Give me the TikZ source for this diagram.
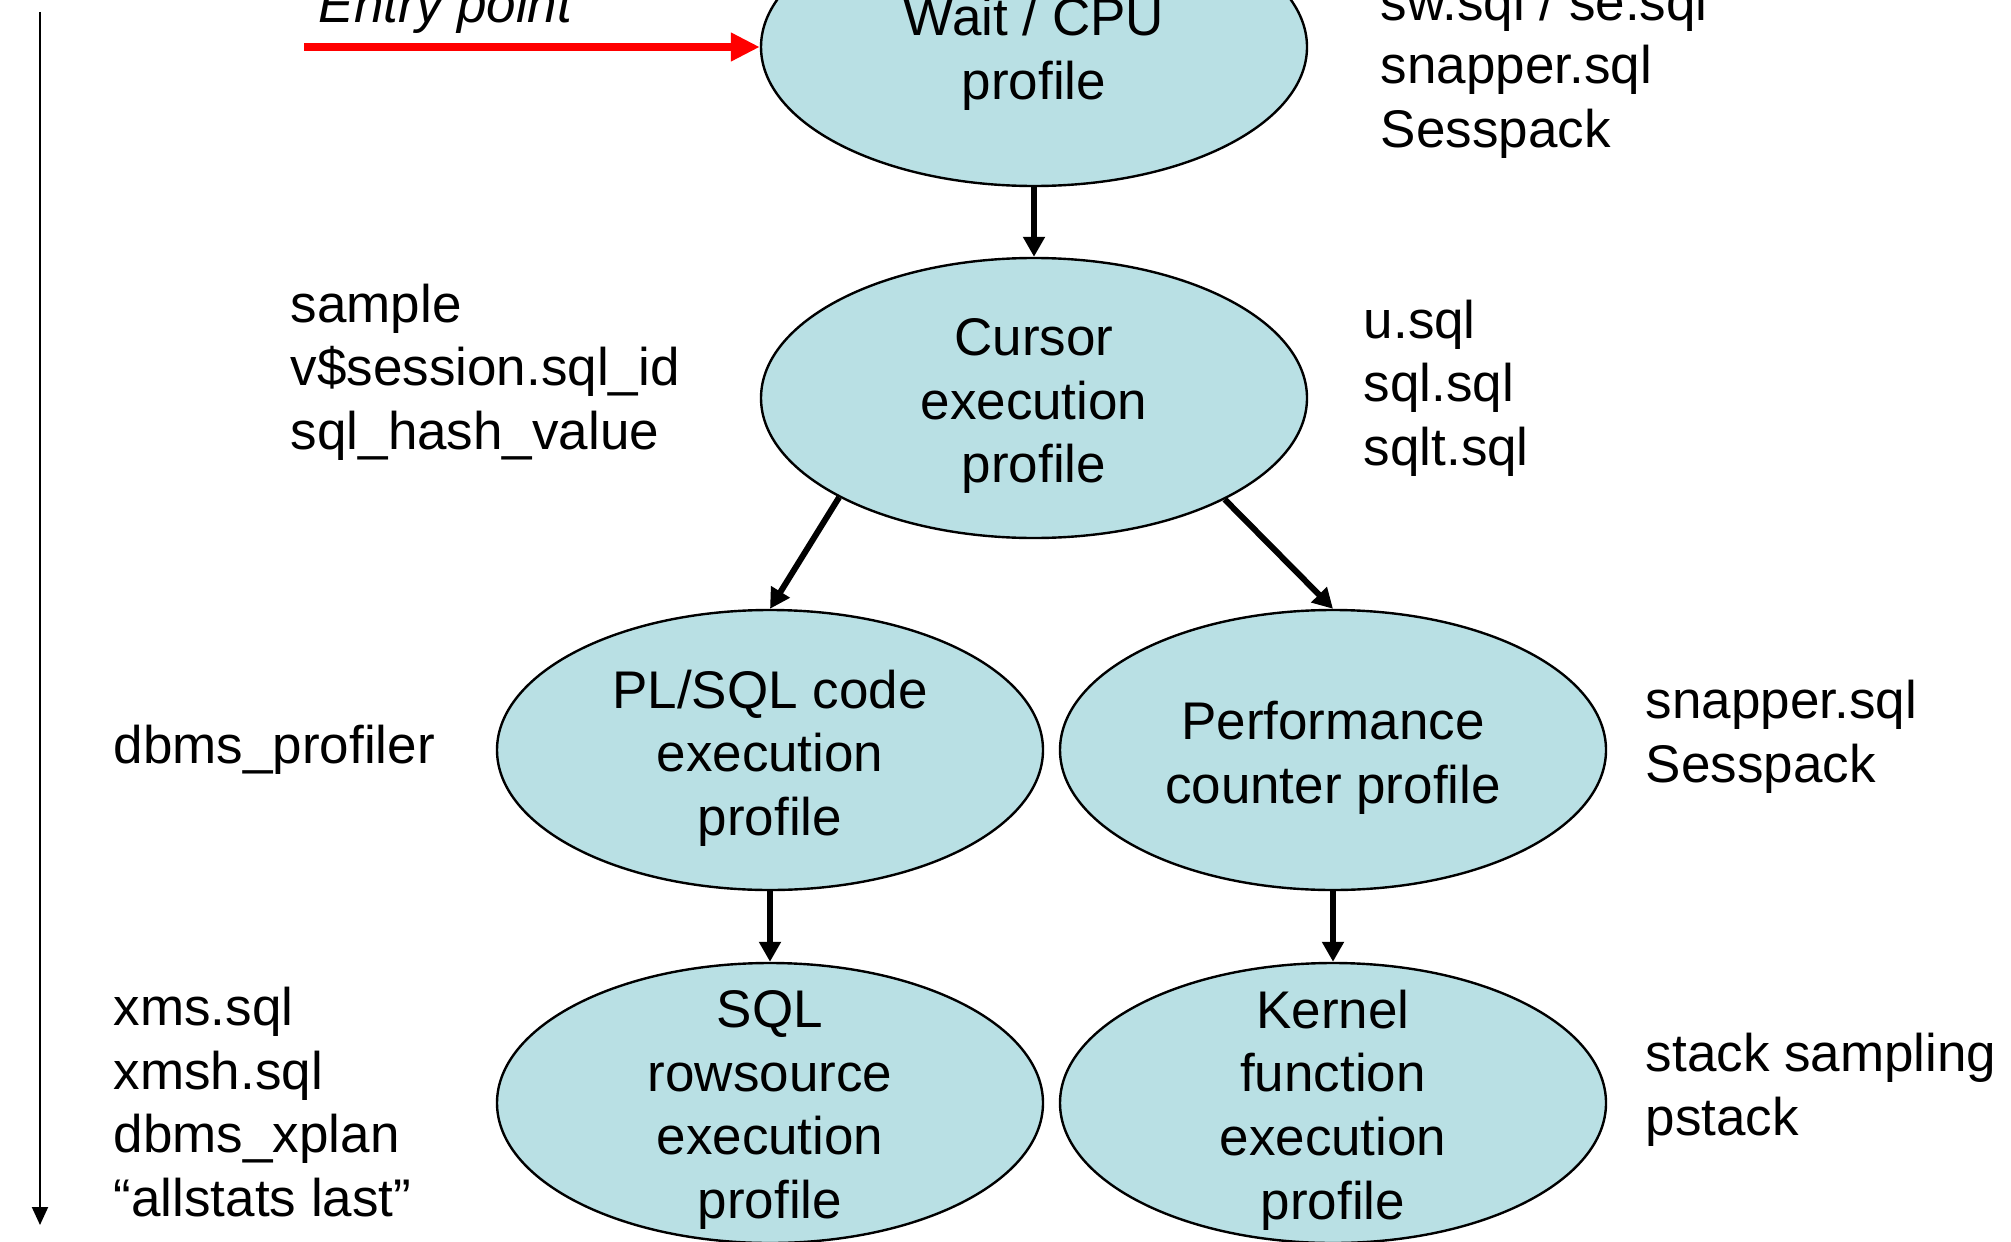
\documentclass[tikz,border=0pt]{standalone}
\usepackage{fontspec}
\setmainfont{Liberation Sans}
\usetikzlibrary{shapes.geometric,arrows.meta}
\definecolor{ellfill}{RGB}{185,224,228}
\newcommand{\fs}{\fontsize{13.25pt}{15.9pt}\selectfont}
\tikzset{
  ell/.style={ellipse, draw=black, line width=0.6pt, fill=ellfill,
    minimum width=136.5pt, minimum height=70pt, inner sep=0pt},
  etxt/.style={align=center, inner sep=0pt, font=\fs},
  side/.style={align=left, anchor=west, inner sep=0pt, font=\fs},
  conn/.style={-{Triangle[length=5pt,width=5.25pt]}, line width=1.5pt},
  redarrow/.style={-{Triangle[length=7.25pt,width=6.75pt]}, line width=2pt, draw=red},
  timearrow/.style={-{Triangle[length=4.5pt,width=4pt]}, line width=0.5pt},
}
\begin{document}
\begin{tikzpicture}[x=0.25pt,y=-0.25pt]
\useasboundingbox (0,0) rectangle (2011,1241);
\clip (0,0) rectangle (2011,1241);
% ellipses
\node[ell, minimum height=69.5pt] (wait) at (1034,47) {};
\node[ell] (cur) at (1034,398) {};
\node[ell] (pls) at (770,750) {};
\node[ell] (perf) at (1333,750) {};
\node[ell] (sqlr) at (770,1103) {};
\node[ell] (kern) at (1333,1103) {};
% ellipse texts
\node[etxt] (waitT) at (1034,54) {Wait / CPU\\profile};
\node[etxt] (curT) at (1034,406) {Cursor\\execution\\profile};
\node[etxt] (plsT) at (770,758) {PL/SQL code\\execution\\profile};
\node[etxt] (perfT) at (1333,758) {Performance\\counter profile};
\node[etxt] (sqlrT) at (770,1110) {SQL\\rowsource\\execution\\profile};
\node[etxt] (kernT) at (1333,1110) {Kernel\\function\\execution\\profile};
% side texts
\node[side, anchor=base west, font=\fs\itshape] (entryT) at (318,23) {Entry point};
\node[side] (topR) at (1380,70) {sw.sql / se.sql\\snapper.sql\\Sesspack};
\node[side] (curL) at (290,372) {sample\\v\$session.sql\_id\\sql\_hash\_value};
\node[side] (curR) at (1363,388) {u.sql\\sql.sql\\sqlt.sql};
\node[side] (plsL) at (113,750) {dbms\_profiler};
\node[side] (perfR) at (1645,737) {snapper.sql\\Sesspack};
\node[side] (sqlrL) at (113,1102) {xms.sql\\xmsh.sql\\dbms\_xplan\\``allstats last''};
\node[side] (kernR) at (1645,1090) {stack sampling\\pstack};
% connectors
\coordinate (entry) at (304,47);
\draw[redarrow] (entry) -- (wait.west);
\coordinate (ltop) at (40,12);
\coordinate (lbot) at (40,1225);
\draw[timearrow] (ltop) -- (lbot);
\draw[conn] (wait.south) -- (cur.north);
\draw[conn] (cur.207.7) -- (pls.north);
\draw[conn] (cur.332.4) -- (perf.north);
\draw[conn] (pls.south) -- (sqlr.north);
\draw[conn] (perf.south) -- (kern.north);
\end{tikzpicture}
\end{document}
